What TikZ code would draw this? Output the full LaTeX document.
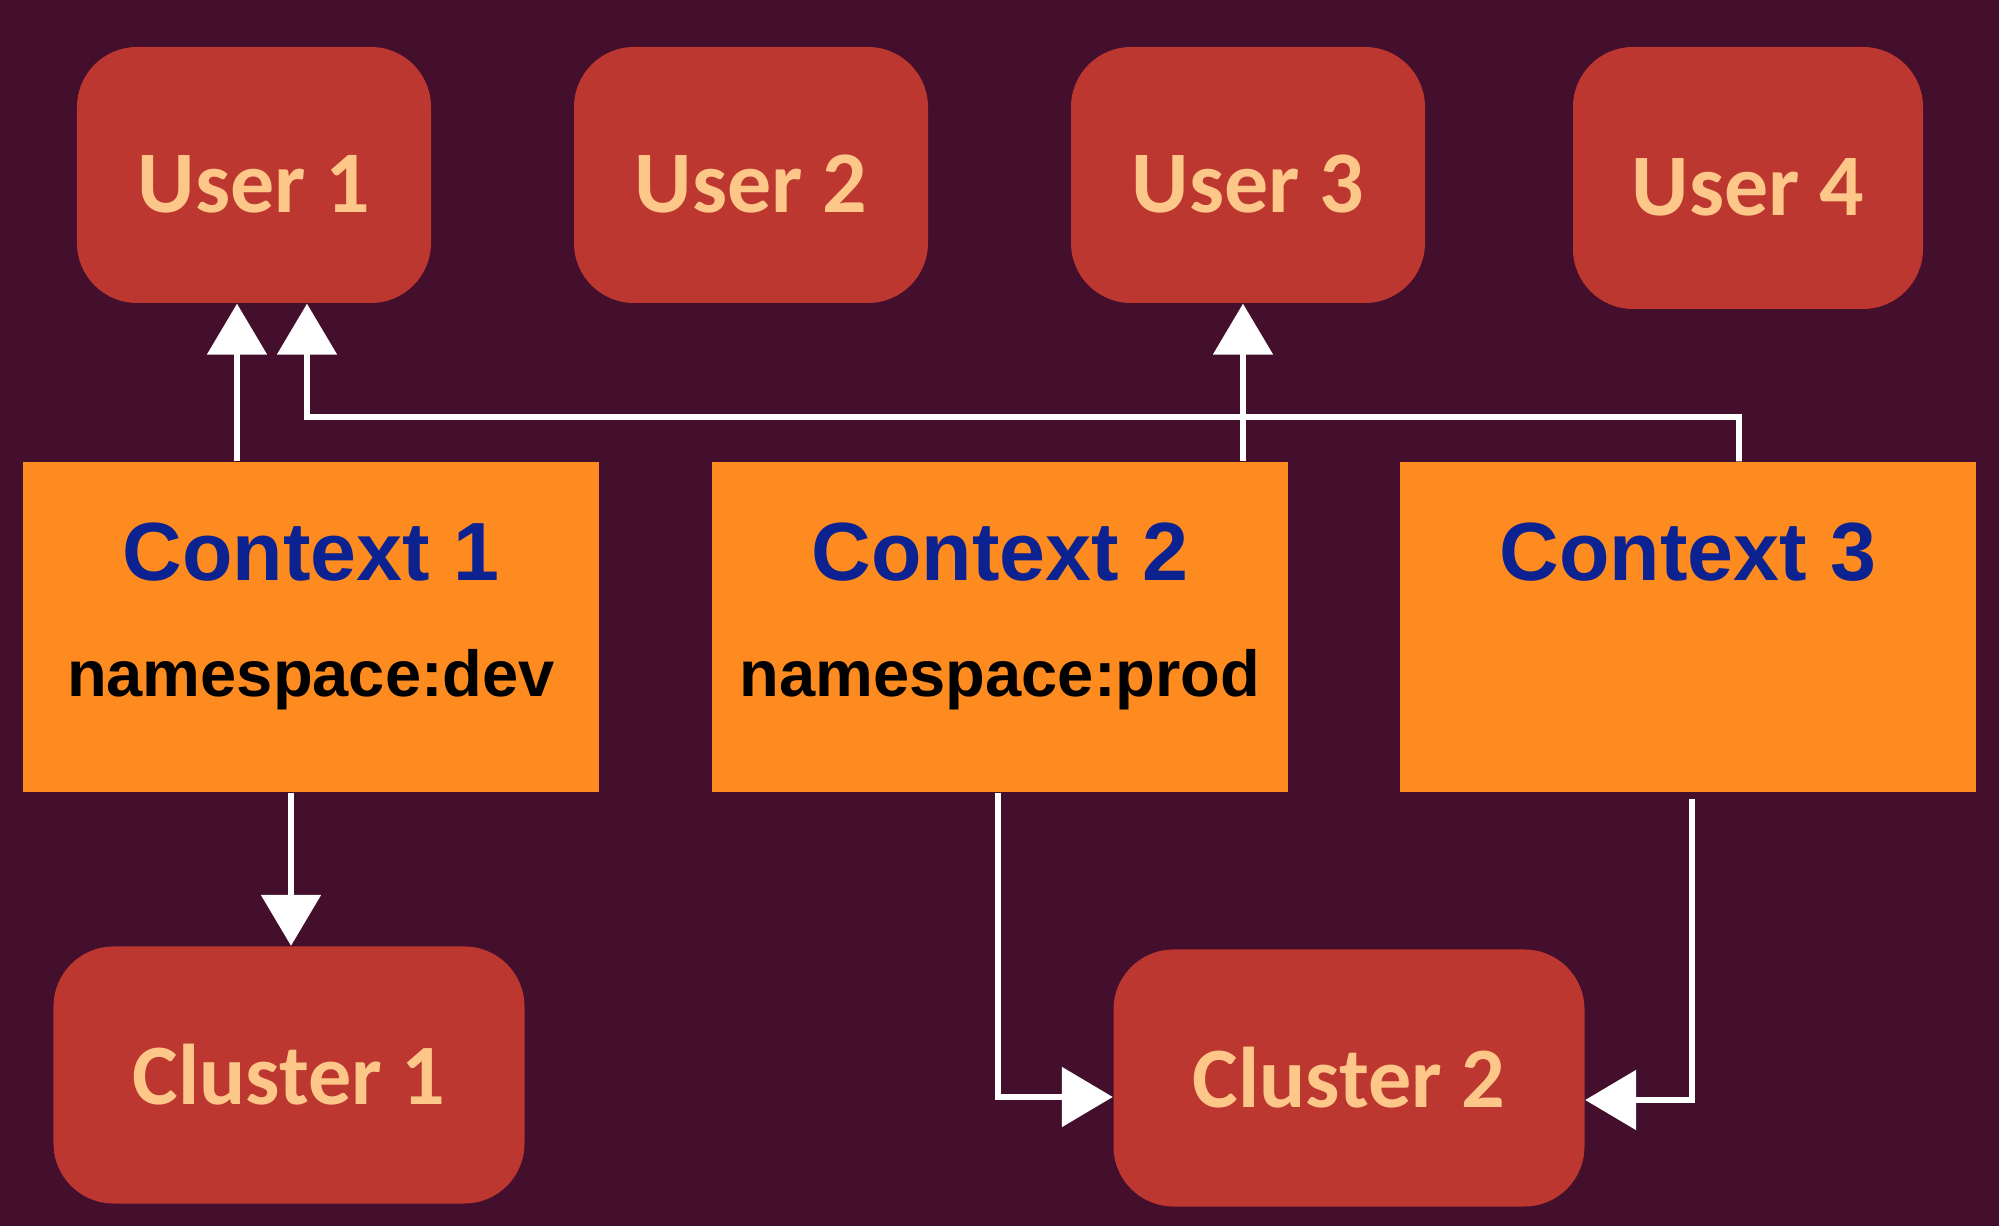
\documentclass[tikz,border=0pt]{standalone}
\usepackage{fontspec}
\setmainfont{Liberation Sans}
\newfontfamily\carlito{Carlito}
\usepackage{xcolor}
\usetikzlibrary{arrows.meta}
\definecolor{bgplum}{HTML}{440E2D}
\definecolor{boxred}{HTML}{BC372F}
\definecolor{peach}{HTML}{FEC78A}
\definecolor{ctxorange}{HTML}{FE8B1F}
\definecolor{ctxblue}{HTML}{0B2290}
\newcommand{\ctxtitle}[1]{{\fontsize{23.5}{28}\selectfont\color{ctxblue}#1}}

\begin{document}
\begin{tikzpicture}[
    person/.style={fill=boxred, rounded corners=0.6cm, minimum width=#1, minimum height=2.56cm, text=peach, text height=0.75cm, text depth=0cm, font=\carlito\bfseries\fontsize{25}{30}\selectfont},
    person/.default=3.54cm,
    cluster/.style={fill=boxred, rounded corners=0.6cm, minimum width=4.71cm, minimum height=2.57cm, text=peach, font=\carlito\bfseries\fontsize{24.5}{30}\selectfont},
    ctx/.style={fill=ctxorange, minimum width=5.76cm, minimum height=3.30cm, align=center, text depth=0.34cm, font=\bfseries\fontsize{18.5}{22}\selectfont},
    flow/.style={draw=white, line width=1.6pt, -{Triangle[width=0.59cm,length=0.51cm]}}
]
\fill[bgplum] (0,0) rectangle (19.99,12.26);
\useasboundingbox (0,0) rectangle (19.99,12.26);

\node[person] (u1) at (2.54, 10.51) {User 1};
\node[person] (u2) at (7.51, 10.51) {User 2};
\node[person] (u3) at (12.48, 10.51) {User 3};
\node[person=3.50cm, minimum height=2.62cm] (u4) at (17.48, 10.48) {User 4};

\node[ctx] (c1) at (3.11, 5.99) {\ctxtitle{Context 1}\\[11pt]namespace:dev};
\node[ctx] (c2) at (10.00, 5.99) {\ctxtitle{Context 2}\\[11pt]namespace:prod};
\node[ctx] (c3) at (16.88, 5.99) {\ctxtitle{Context 3}\\[11pt]\phantom{namespace:prod}};

\node[cluster] (cl1) at (2.89, 1.51) {Cluster 1};
\node[cluster] (cl2) at (13.49, 1.48) {Cluster 2};

\draw[flow] ([xshift=-0.74cm]c1.north) -- ([xshift=-0.74cm]c1.north |- u1.south);
\draw[flow] ([xshift=0.51cm]c3.north) |- (3.07, 8.09) -- ([xshift=0.53cm]u1.south);
\draw[flow] ([xshift=2.43cm]c2.north) -- ([xshift=2.43cm]c2.north |- u3.south);
\draw[flow] ([xshift=-0.20cm]c1.south) -- ([xshift=-0.20cm]c1.south |- cl1.north);
\draw[flow] ([xshift=-0.02cm]c2.south) |- ([yshift=-0.19cm]cl2.west);
\draw[flow] ([xshift=0.04cm,yshift=-0.06cm]c3.south) |- ([yshift=-0.22cm]cl2.east);
\end{tikzpicture}
\end{document}
